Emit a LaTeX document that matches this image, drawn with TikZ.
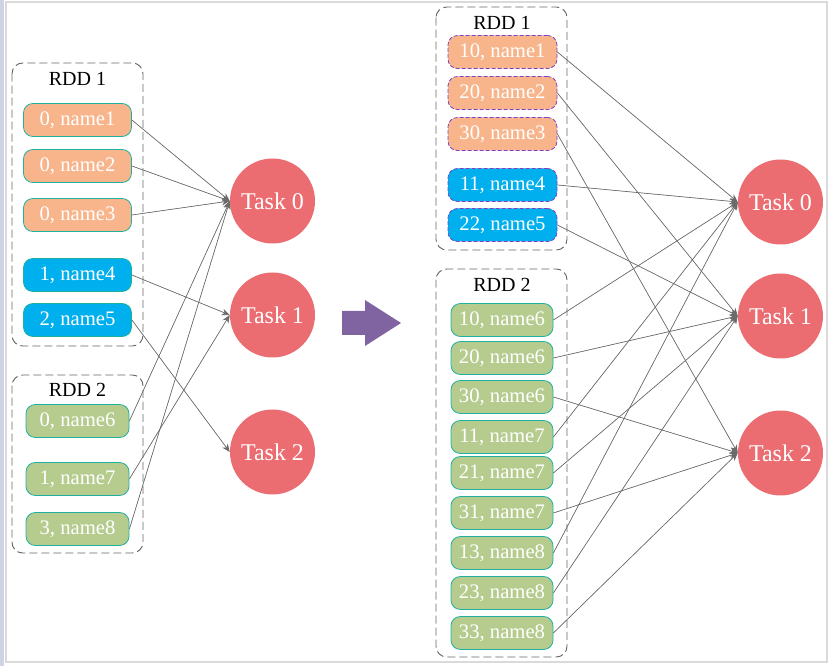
\documentclass[tikz,border=0pt]{standalone}
\usepackage{fontspec}
\setmainfont{Liberation Serif}
\usetikzlibrary{arrows.meta}

\definecolor{partorange}{HTML}{F8B58C}
\definecolor{partblue}{HTML}{00B0EE}
\definecolor{partgreen}{HTML}{B6CC8F}
\definecolor{partteal}{HTML}{1FB0A0}
\definecolor{partpurple}{HTML}{8040C0}
\definecolor{taskred}{HTML}{EB6D71}
\definecolor{edgegray}{HTML}{6A6A6A}
\definecolor{boxgray}{HTML}{666666}
\definecolor{shufflepurple}{HTML}{8064A2}
\definecolor{stripblue}{HTML}{CDD5E5}
\definecolor{framegray}{HTML}{DADADA}

\begin{document}
\begin{tikzpicture}[x=0.75pt,y=-0.75pt,->,>={Stealth[length=6pt,width=5pt]}]
        \tikzstyle{part}=[draw=partteal,line width=0.6pt,rounded corners=7pt,minimum height=24.75pt,inner sep=0pt,
                          text=white,font=\fontsize{15.5}{17}\selectfont]
        \tikzstyle{task}=[circle,fill=taskred,minimum size=63.75pt,inner sep=0pt,
                          text=white,font=\fontsize{18}{20}\selectfont]
        \tikzstyle{rdd}=[draw=boxgray,line width=0.7pt,dash pattern=on 6pt off 3pt,rounded corners=8pt]
        \tikzstyle{title}=[font=\fontsize{15}{17}\selectfont]
        \tikzstyle{link}=[draw=edgegray,fill=edgegray,line width=0.5pt]

        \useasboundingbox (0,0) rectangle (833,666);
        \fill[stripblue] (0,0) rectangle (4,666);
        \draw[-,framegray,line width=0.8pt] (6,2) rectangle (827,662);

        % before the shuffle
        \draw[-,rdd] (12,63) rectangle (143,346);
        \node[title] (rdd-a) at (77.5,79) {RDD 1};
        \draw[-,rdd] (12,375) rectangle (143,553);
        \node[title] (rdd-b) at (77.5,390) {RDD 2};

        \foreach \name/\y/\id/\k/\col in {L-1/120/0/1/partorange, L-2/166/0/2/partorange,
                                          L-3/215/0/3/partorange, L-4/275/1/4/partblue,
                                          L-5/320/2/5/partblue}
          \node[part,fill=\col,minimum width=81pt] (\name) at (77.5,\y) {\id, name\k};

        \foreach \name/\y/\id/\k in {M-1/421/0/6, M-2/479/1/7, M-3/529/3/8}
          \node[part,fill=partgreen,minimum width=77.25pt] (\name) at (77.5,\y) {\id, name\k};

        \foreach \t/\y in {0/201, 1/315, 2/452}
          \node[task] (T-\t) at (272.5,\y) {Task \t};

        \foreach \from/\to in {L-1/0,L-2/0,L-3/0,L-4/1,L-5/2,M-1/0,M-2/1,M-3/0}
          { \draw[link] (\from.east) -- (T-\to.west); }

        % shuffle arrow
        \fill[shufflepurple] (342,311) -- (365,311) -- (365,300) -- (401,323)
              -- (365,346) -- (365,335) -- (342,335) -- cycle;

        % after the shuffle
        \draw[-,rdd] (436,7) rectangle (567,250);
        \node[title] (rdd-c) at (502,23) {RDD 1};
        \draw[-,rdd] (436,269) rectangle (567,657);
        \node[title] (rdd-d) at (502,285) {RDD 2};

        \foreach \name/\y/\id/\k/\col in {R-1/52/10/1/partorange, R-2/93/20/2/partorange,
                                          R-3/134/30/3/partorange, R-4/185/11/4/partblue,
                                          R-5/225/22/5/partblue}
          \node[part,fill=\col,draw=partpurple,dash pattern=on 3pt off 1.5pt,minimum width=81.75pt]
               (\name) at (502.5,\y) {\id, name\k};

        \foreach \name/\y/\id/\k in {S-1/320/10/6, S-2/358/20/6, S-3/397/30/6,
                                     S-4/437/11/7, S-5/473/21/7, S-6/513/31/7,
                                     S-7/553/13/8, S-8/593/23/8, S-9/633/33/8}
          \node[part,fill=partgreen,minimum width=76.5pt] (\name) at (502,\y) {\id, name\k};

        \foreach \t/\y in {0/202, 1/316, 2/453}
          \node[task] (U-\t) at (780.5,\y) {Task \t};

        \foreach \from/\to in {R-1/0,R-2/1,R-3/2,R-4/0,R-5/1,S-1/0,S-2/1,S-3/2,
                               S-4/0,S-5/1,S-6/2,S-7/0,S-8/1,S-9/2}
          { \draw[link] (\from.east) -- (U-\to.west); }
      \end{tikzpicture}
\end{document}
